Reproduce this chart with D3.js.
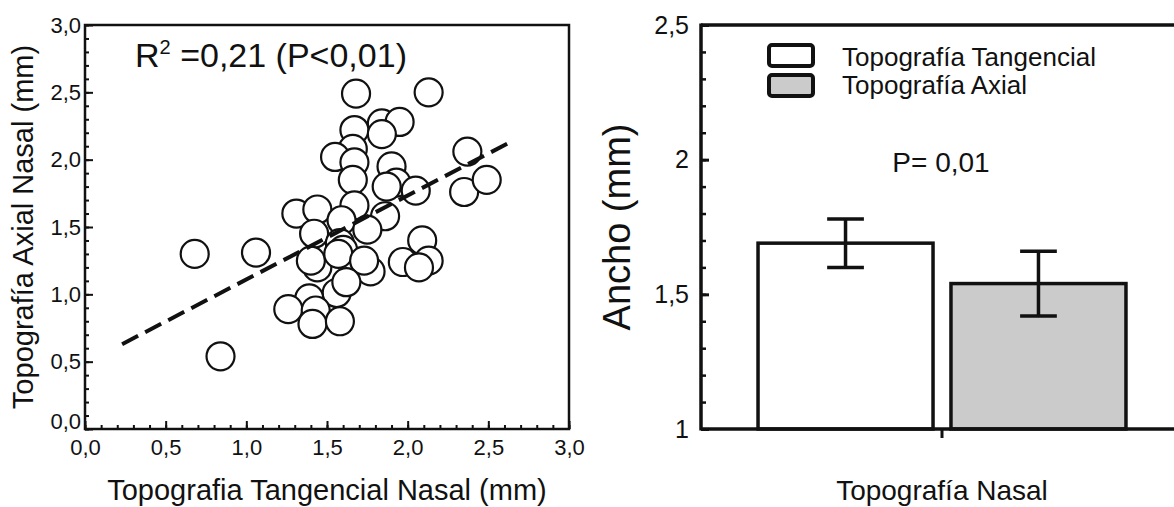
<!DOCTYPE html>
<html>
<head>
<meta charset="utf-8">
<script src="https://cdn.jsdelivr.net/npm/d3@7"></script>
<style>
  body { margin: 0; background: #fff; }
  text { font-family: "Liberation Sans", Arial, sans-serif; fill: #111; }
</style>
</head>
<body>
<div id="chart"></div>
<script>
// Scatter data (left panel)
const scatterX = [0.68, 0.84, 1.06, 1.68, 2.13, 1.67, 1.84, 1.95, 1.84, 1.66, 1.55, 1.67, 1.90,
  1.66, 1.93, 1.87, 2.05, 2.37, 2.35, 2.49, 1.67, 1.86, 1.31, 1.44, 1.59, 1.42, 1.75, 1.58, 1.60,
  2.09, 1.97, 2.13, 2.07, 1.44, 1.40, 1.57, 1.77, 1.73, 1.56, 1.62, 1.39, 1.26, 1.43, 1.41, 1.58];
const scatterY = [1.30, 0.54, 1.31, 2.49, 2.50, 2.22, 2.27, 2.28, 2.19, 2.08, 2.02, 1.98, 1.95,
  1.85, 1.83, 1.80, 1.77, 2.06, 1.76, 1.85, 1.66, 1.58, 1.60, 1.63, 1.55, 1.45, 1.48, 1.38, 1.33,
  1.40, 1.24, 1.25, 1.20, 1.20, 1.25, 1.30, 1.17, 1.25, 1.01, 1.09, 0.97, 0.89, 0.88, 0.78, 0.80];
const fitX = [0.23, 2.66];
const fitY = [0.63, 2.145];
const scatterTicks = [0, 0.5, 1, 1.5, 2, 2.5, 3];
const scatterTickLabels = ["0,0", "0,5", "1,0", "1,5", "2,0", "2,5", "3,0"];

// Bar data (right panel)
const barCategories = ["Topografía Nasal"];
const barSeries = ["Topografía Tangencial", "Topografía Axial"];
const barMeans = [1.69, 1.54];
const barLow = [1.60, 1.42];
const barHigh = [1.78, 1.66];
const barTicks = [1, 1.5, 2, 2.5];
const barTickLabels = ["1", "1,5", "2", "2,5"];

const barColors = ["#ffffff", "#cbcbcb"];
const ink = "#111";

const svg = d3.select("#chart").append("svg")
  .attr("width", 1174)
  .attr("height", 507);

// ---------- left: scatter ----------
const L = {left: 85, right: 569, top: 25, bottom: 429};
const x = d3.scaleLinear().domain([0, 3]).range([L.left, L.right]);
const y = d3.scaleLinear().domain([0, 3]).range([L.bottom, L.top]);
const minor = d3.range(0, 3.001, 0.1);

function styleAxis(g, size, width) {
  g.attr("font-size", size).attr("font-family", "'Liberation Sans', Arial, sans-serif");
  g.select(".domain").remove();
  g.selectAll("line").attr("stroke", ink).attr("stroke-width", width);
  g.selectAll("text").attr("fill", ink).attr("font-size", size).style("font-size", size + "px");
}

svg.append("g")
  .attr("transform", "translate(0," + L.bottom + ")")
  .call(d3.axisBottom(x).tickValues(minor).tickSize(-4).tickFormat(""))
  .call(g => styleAxis(g, 22, 2));
svg.append("g")
  .attr("transform", "translate(0," + L.bottom + ")")
  .call(d3.axisBottom(x).tickValues(scatterTicks).tickSize(-8).tickPadding(10)
    .tickFormat((d, i) => scatterTickLabels[i]))
  .call(g => styleAxis(g, 22, 2));

svg.append("g")
  .attr("transform", "translate(" + L.left + ",0)")
  .call(d3.axisLeft(y).tickValues(minor).tickSize(-4).tickFormat(""))
  .call(g => styleAxis(g, 22, 2));
svg.append("g")
  .attr("transform", "translate(" + L.left + ",0)")
  .call(d3.axisLeft(y).tickValues(scatterTicks).tickSize(-8).tickPadding(4)
    .tickFormat((d, i) => scatterTickLabels[i]))
  .call(g => styleAxis(g, 22, 2))
  // lift the bottom "0,0" a little, as in the original
  .call(g => g.selectAll(".tick text").filter(d => d === 0).attr("y", -8));

svg.append("rect")
  .attr("x", L.left).attr("y", L.top)
  .attr("width", L.right - L.left).attr("height", L.bottom - L.top)
  .attr("fill", "none").attr("stroke", ink).attr("stroke-width", 2.5);

svg.append("g").selectAll("circle")
  .data(scatterX)
  .enter()
  .append("circle")
    .attr("cx", d => x(d))
    .attr("cy", (d, i) => y(scatterY[i]))
    .attr("r", 14)
    .attr("fill", "#fff")
    .attr("stroke", ink)
    .attr("stroke-width", 2.2);

svg.append("path")
  .datum(fitX.map((d, i) => [d, fitY[i]]))
  .attr("d", d3.line().x(d => x(d[0])).y(d => y(d[1])))
  .attr("fill", "none")
  .attr("stroke", ink)
  .attr("stroke-width", 4)
  .attr("stroke-dasharray", "18,8");

const r2 = svg.append("text")
  .attr("x", 135).attr("y", 67)
  .style("font-size", "34px");
r2.append("tspan").text("R");
r2.append("tspan").attr("dy", -13).style("font-size", "20px").text("2");
r2.append("tspan").attr("dy", 13).text(" =0,21 (P<0,01)");

svg.append("text")
  .attr("x", (L.left + L.right) / 2).attr("y", 500)
  .attr("text-anchor", "middle")
  .style("font-size", "29px")
  .text("Topografia Tangencial Nasal (mm)");

svg.append("text")
  .attr("transform", "translate(33," + (L.top + L.bottom) / 2 + ") rotate(-90)")
  .attr("text-anchor", "middle")
  .style("font-size", "29px")
  .text("Topografía Axial Nasal (mm)");

// ---------- right: bars ----------
const R = {left: 701, right: 1183, top: 25, bottom: 429};
const yR = d3.scaleLinear().domain([1, 2.5]).range([R.bottom, R.top]);
const xR = d3.scaleBand().domain(barCategories).range([R.left, R.right])
  .paddingInner(0).paddingOuter(0.155);
const xSub = d3.scaleBand().domain(barSeries).range([0, xR.bandwidth()]).paddingInner(0.093);

svg.append("g")
  .attr("transform", "translate(" + R.left + ",0)")
  .call(d3.axisLeft(yR).tickValues(d3.range(1, 2.501, 0.1)).tickSize(-5).tickFormat(""))
  .call(g => styleAxis(g, 25, 2.5));
svg.append("g")
  .attr("transform", "translate(" + R.left + ",0)")
  .call(d3.axisLeft(yR).tickValues(barTicks).tickSize(-8).tickPadding(12)
    .tickFormat((d, i) => barTickLabels[i]))
  .call(g => styleAxis(g, 25, 3));

const group = svg.append("g")
  .attr("transform", "translate(" + xR(barCategories[0]) + ",0)");

group.selectAll("rect.bar")
  .data(barSeries)
  .enter()
  .append("rect")
    .attr("class", "bar")
    .attr("x", d => xSub(d))
    .attr("y", (d, i) => yR(barMeans[i]))
    .attr("width", xSub.bandwidth())
    .attr("height", (d, i) => R.bottom - yR(barMeans[i]))
    .attr("fill", (d, i) => barColors[i])
    .attr("stroke", ink)
    .attr("stroke-width", 3.5);

const capW = xSub.bandwidth() * 0.21;
barSeries.forEach((s, i) => {
  const cx = xSub(s) + xSub.bandwidth() / 2;
  const eb = group.append("g").attr("stroke", ink).attr("stroke-width", 3.5);
  eb.append("line").attr("x1", cx).attr("x2", cx)
    .attr("y1", yR(barHigh[i])).attr("y2", yR(barLow[i]));
  [barHigh[i], barLow[i]].forEach(v => {
    eb.append("line").attr("x1", cx - capW / 2).attr("x2", cx + capW / 2)
      .attr("y1", yR(v)).attr("y2", yR(v));
  });
});

// frame lines (panel runs off the right edge)
const frame = svg.append("g").attr("stroke", ink).attr("stroke-width", 3.5);
frame.append("line").attr("x1", R.left).attr("x2", R.right).attr("y1", R.top).attr("y2", R.top);
frame.append("line").attr("x1", R.left).attr("x2", R.right).attr("y1", R.bottom).attr("y2", R.bottom);
frame.append("line").attr("x1", R.left).attr("x2", R.left).attr("y1", R.top - 1.5).attr("y2", R.bottom + 1.5);

const catX = xR(barCategories[0]) + xR.bandwidth() / 2;
frame.append("line").attr("x1", catX).attr("x2", catX)
  .attr("y1", R.bottom).attr("y2", R.bottom + 9).attr("stroke-width", 3);

// legend
const legend = svg.append("g");
barSeries.forEach((s, i) => {
  legend.append("rect")
    .attr("x", 769).attr("y", 45 + i * 30)
    .attr("width", 44).attr("height", 21)
    .attr("rx", 3)
    .attr("fill", barColors[i])
    .attr("stroke", ink)
    .attr("stroke-width", 4);
  legend.append("text")
    .attr("x", 842).attr("y", 66 + i * 28)
    .style("font-size", "26px")
    .text(s);
});

svg.append("text")
  .attr("x", 941).attr("y", 172)
  .attr("text-anchor", "middle")
  .style("font-size", "28px")
  .text("P= 0,01");

svg.append("text")
  .attr("x", catX).attr("y", 500)
  .attr("text-anchor", "middle")
  .style("font-size", "28px")
  .text(barCategories[0]);

svg.append("text")
  .attr("transform", "translate(630," + (R.top + R.bottom) / 2 + ") rotate(-90)")
  .attr("text-anchor", "middle")
  .style("font-size", "38px")
  .text("Ancho (mm)");
</script>
</body>
</html>
